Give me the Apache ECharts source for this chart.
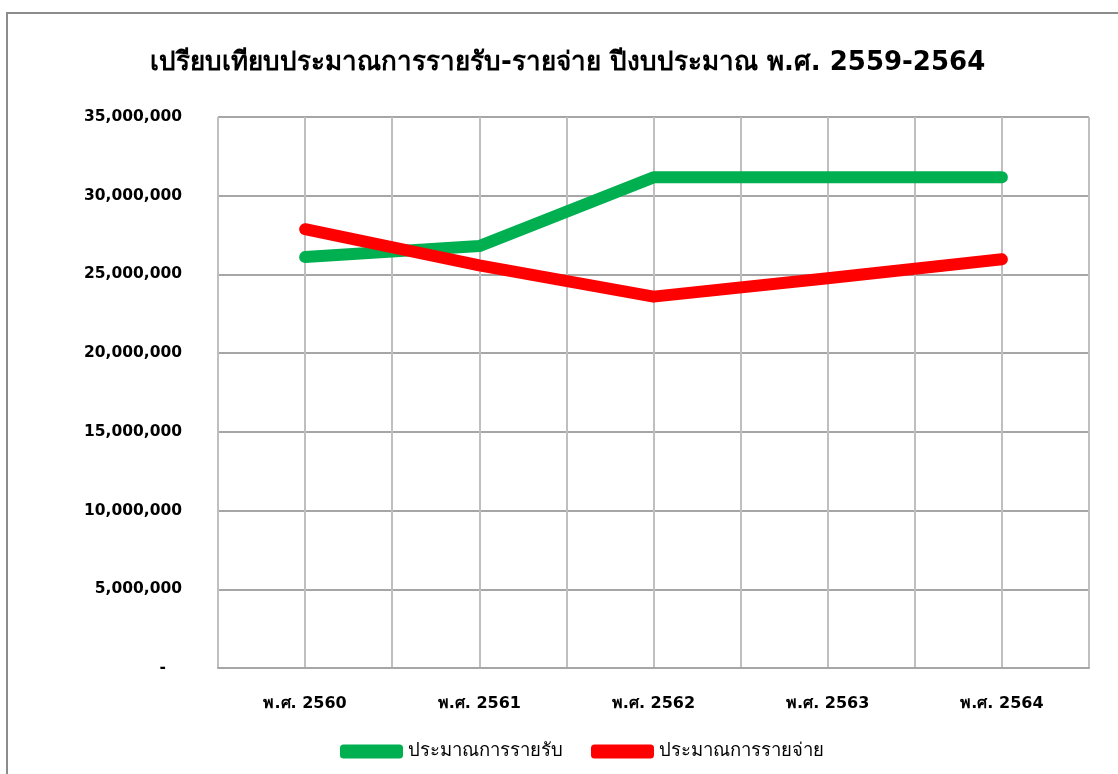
<!DOCTYPE html>
<html lang="th">
<head>
<meta charset="utf-8">
<title>ประมาณการรายรับ-รายจ่าย</title>
<script src="https://cdn.jsdelivr.net/npm/echarts@6/dist/echarts.min.js"></script>
<style>
  html, body { margin: 0; padding: 0; background: #fff; }
  #chart { width: 1118px; height: 774px; }
</style>
</head>
<body>
<div id="chart"></div>
<script>
// ข้อมูลกราฟ
const years = ['พ.ศ. 2560', 'พ.ศ. 2561', 'พ.ศ. 2562', 'พ.ศ. 2563', 'พ.ศ. 2564']
const income = [26100000, 26800000, 31170000, 31170000, 31170000]
const expense = [27870000, 25570000, 23590000, 24760000, 25960000]
// เส้นแบ่งแนวตั้ง (ครึ่งช่อง) ใช้แกนช่วยที่ไม่มีป้าย
const gridSlots = ['', '', '', '', '', '', '', '', '', '', '']

const FONT = 'Tahoma, "DejaVu Sans", "Noto Sans", sans-serif'

const chart = echarts.init(document.getElementById('chart'))

/**
 * สร้างชุดเส้นข้อมูล
 */
const makeLine = (name, data, color) => ({
  name,
  type: 'line',
  data,
  xAxisIndex: 0,
  symbol: 'none',
  silent: true,
  lineStyle: { width: 12, color, cap: 'round', join: 'round' },
  itemStyle: { color }
})

chart.setOption({
  backgroundColor: '#fff',
  animation: false,
  title: {
    text: 'เปรียบเทียบประมาณการรายรับ-รายจ่าย ปีงบประมาณ พ.ศ. 2559-2564',
    left: 145,
    top: 45,
    textStyle: { fontFamily: FONT, fontSize: 26, fontWeight: 'bold', color: '#000' }
  },
  legend: {
    top: 737,
    left: 335,
    itemWidth: 63,
    itemHeight: 14,
    itemGap: 28,
    icon: 'roundRect',
    selectedMode: false,
    textStyle: { fontFamily: FONT, fontSize: 18.5, color: '#000' },
    data: ['ประมาณการรายรับ', 'ประมาณการรายจ่าย']
  },
  grid: { left: 218, right: 29, top: 117, bottom: 106 },
  xAxis: [
    {
      type: 'category',
      data: years,
      boundaryGap: true,
      axisLine: { show: true, lineStyle: { color: '#a6a6a6', width: 2 } },
      axisTick: { show: false },
      splitLine: { show: false },
      axisLabel: {
        margin: 28,
        fontFamily: FONT,
        fontSize: 16,
        fontWeight: 'bold',
        color: '#000'
      }
    },
    {
      type: 'category',
      data: gridSlots,
      boundaryGap: false,
      position: 'bottom',
      axisLine: { show: false },
      axisTick: { show: false },
      axisLabel: { show: false },
      splitLine: { show: true, lineStyle: { color: '#bfbfbf', width: 2 } }
    }
  ],
  yAxis: {
    type: 'value',
    min: 0,
    max: 35000000,
    interval: 5000000,
    axisLine: { show: false },
    axisTick: { show: false },
    splitLine: { show: true, lineStyle: { color: '#a6a6a6', width: 2 } },
    axisLabel: {
      margin: 36,
      fontFamily: FONT,
      fontSize: 15.5,
      fontWeight: 'bold',
      color: '#000',
      formatter: (v) => (v === 0 ? '-   ' : v.toLocaleString('en-US'))
    }
  },
  series: [
    makeLine('ประมาณการรายรับ', income, '#00b050'),
    makeLine('ประมาณการรายจ่าย', expense, '#ff0000')
  ],
  graphic: [
    {
      type: 'rect',
      silent: true,
      shape: { x: 7, y: 13, width: 1200, height: 900 },
      style: { fill: 'none', stroke: '#8c8c8c', lineWidth: 2 }
    }
  ]
})

window.addEventListener('resize', () => chart.resize())
</script>
</body>
</html>
